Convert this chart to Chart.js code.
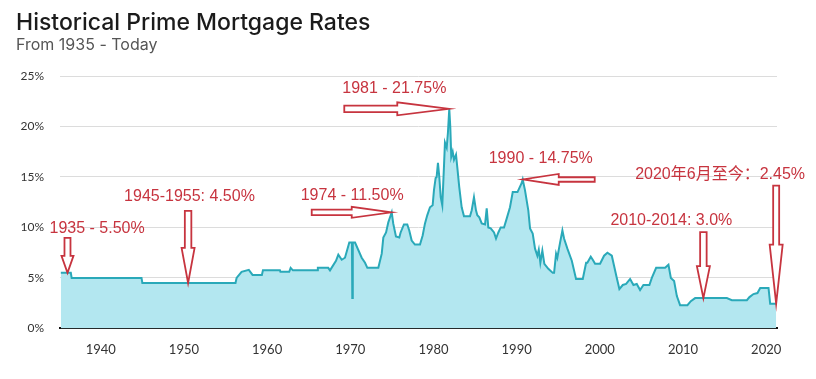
<!DOCTYPE html>
<html>
<head>
<meta charset="utf-8">
<script src="https://cdn.jsdelivr.net/npm/chart.js@4/dist/chart.umd.min.js"></script>
<style>
  html, body { margin: 0; padding: 0; background: #ffffff; }
  #wrap { width: 816px; height: 379px; }
</style>
</head>
<body>
<div id="wrap"><canvas id="c" width="816" height="379"></canvas></div>
<script>
// ---- data ----
const years = [
  1935.2, 1936.4, 1936.5, 1944.9, 1945.0, 1956.2, 1956.33, 1956.93, 1957.8, 1958.25,
  1959.37, 1959.5, 1961.54, 1961.6, 1962.66, 1962.83, 1963.1, 1966.0, 1966.1, 1967.35,
  1967.56, 1968.28, 1968.56, 1968.97, 1969.36, 1969.88, 1970.2, 1970.24, 1970.3, 1970.57,
  1971.37, 1971.77, 1972.05, 1973.37, 1973.78, 1973.97, 1974.3, 1974.57, 1974.98, 1975.16,
  1975.49, 1975.89, 1976.05, 1976.45, 1976.85, 1977.09, 1977.38, 1977.77, 1978.38, 1978.7,
  1978.98, 1979.25, 1979.58, 1979.9, 1980.06, 1980.26, 1980.38, 1980.54, 1980.7, 1980.87,
  1981.06, 1981.26, 1981.38, 1981.59, 1981.74, 1981.9, 1982.02, 1982.14, 1982.31, 1982.47,
  1982.71, 1982.86, 1983.1, 1983.39, 1983.67, 1984.39, 1984.6, 1984.87, 1985.11, 1985.27,
  1985.51, 1985.8, 1986.2, 1986.4, 1986.59, 1986.88, 1987.28, 1987.52, 1987.8, 1988.08,
  1988.48, 1988.81, 1989.2, 1989.53, 1990.1, 1990.61, 1990.73, 1991.0, 1991.4, 1991.61,
  1991.93, 1992.21, 1992.49, 1992.66, 1992.85, 1993.09, 1993.33, 1993.81, 1994.34, 1994.5,
  1994.74, 1994.89, 1995.22, 1995.5, 1995.7, 1996.1, 1996.63, 1997.14, 1997.95, 1998.35,
  1998.5, 1998.91, 1999.15, 1999.43, 2000.03, 2000.51, 2000.91, 2001.44, 2001.71, 2002.04,
  2002.35, 2002.76, 2003.16, 2003.64, 2004.04, 2004.44, 2004.84, 2005.24, 2005.96, 2006.25,
  2006.77, 2007.85, 2008.25, 2008.54, 2008.93, 2009.26, 2009.65, 2010.53, 2010.94, 2011.46,
  2015.27, 2015.87, 2017.68, 2017.99, 2018.47, 2018.95, 2019.28, 2020.28, 2020.48, 2021.2
];
const rates = [
  5.5, 5.5, 5.0, 5.0, 4.5, 4.5, 5.0, 5.6, 5.8, 5.3,
  5.3, 5.75, 5.75, 5.6, 5.6, 6.0, 5.75, 5.75, 6.0, 6.0,
  5.75, 6.7, 7.3, 6.8, 7.0, 8.5, 8.5, 3.0, 8.5, 8.5,
  7.0, 6.5, 6.0, 6.0, 7.4, 9.0, 9.5, 10.5, 11.5, 10.4,
  9.1, 9.0, 9.5, 10.3, 10.3, 9.7, 8.7, 8.3, 8.3, 9.2,
  10.4, 11.2, 12.0, 12.2, 13.7, 14.9, 15.0, 16.4, 15.0, 13.0,
  12.2, 16.0, 18.4, 17.9, 19.4, 21.75, 20.0, 17.0, 17.5, 16.7,
  17.2, 16.0, 14.0, 12.0, 11.1, 11.1, 11.7, 13.0, 11.7, 11.2,
  11.0, 10.4, 10.3, 11.9, 10.0, 9.9, 9.5, 8.9, 9.5, 10.0,
  10.0, 10.9, 12.0, 13.5, 13.5, 14.4, 14.75, 13.7, 11.7, 9.9,
  9.4, 7.9, 7.2, 7.8, 6.5, 7.7, 6.4, 5.9, 5.5, 5.5,
  7.4, 7.0, 8.5, 9.7, 8.9, 7.9, 6.7, 4.9, 4.9, 6.5,
  6.5, 7.1, 6.8, 6.4, 6.4, 7.2, 7.5, 7.2, 6.2, 5.0,
  3.9, 4.3, 4.4, 4.9, 4.3, 4.4, 3.8, 4.3, 4.3, 5.0,
  6.0, 6.0, 6.3, 5.0, 4.7, 3.2, 2.3, 2.3, 2.7, 3.0,
  3.0, 2.8, 2.8, 3.1, 3.4, 3.5, 4.0, 4.0, 2.45, 2.45
];
const xTickYears = [1940, 1950, 1960, 1970, 1980, 1990, 2000, 2010, 2020];
const yTickValues = [0, 5, 10, 15, 20, 25];

// annotations: label text and the data point each arrow points at
const annoTexts = ['1935 - 5.50%', '1945-1955: 4.50%', '1974 - 11.50%', '1981 - 21.75%',
                   '1990 - 14.75%', '2010-2014: 3.0%', '2020年6月至今：2.45%'];
const annoYears = [1936.0, 1950.5, 1974.98, 1981.9, 1990.73, 2012.45, 2021.2];
const annoRates = [5.5, 4.5, 11.5, 21.75, 14.75, 3.0, 2.45];

// ---- styling of annotations (pixel offsets relative to arrow tip) ----
const annoStyle = [
  { ang: Math.PI / 2, len: 35,  head: 17, shaft: 6,   headW: 12,  dx: -18,  dy: -44 },
  { ang: Math.PI / 2, len: 72,  head: 35, shaft: 6.5, headW: 13,  dx: -64,  dy: -86 },
  { ang: 0,           len: 80,  head: 40, shaft: 5.5, headW: 11,  dx: -91,  dy: -17 },
  { ang: 0,           len: 105, head: 52, shaft: 6.5, headW: 13,  dx: -107, dy: -20 },
  { ang: Math.PI,     len: 72,  head: 36, shaft: 4.5, headW: 11,  dx: -34,  dy: -21 },
  { ang: Math.PI / 2, len: 66,  head: 32, shaft: 6.5, headW: 13,  dx: -93,  dy: -78 },
  { ang: Math.PI / 2, len: 118, head: 59, shaft: 6,   headW: 13,  dx: -141, dy: -129 }
];
const RED = '#c7343f';

function drawArrow(ctx, tx, ty, s) {
  ctx.save();
  ctx.translate(tx, ty);
  ctx.rotate(s.ang);
  ctx.beginPath();
  ctx.moveTo(0, 0);
  ctx.lineTo(-s.head, -s.headW / 2);
  ctx.lineTo(-s.head, -s.shaft / 2);
  ctx.lineTo(-s.len, -s.shaft / 2);
  ctx.lineTo(-s.len, s.shaft / 2);
  ctx.lineTo(-s.head, s.shaft / 2);
  ctx.lineTo(-s.head, s.headW / 2);
  ctx.closePath();
  ctx.fillStyle = '#ffffff';
  ctx.fill();
  ctx.lineWidth = 1.8;
  ctx.strokeStyle = RED;
  ctx.lineJoin = 'miter';
  ctx.stroke();
  ctx.restore();
}

const annoPlugin = {
  id: 'annoPlugin',
  afterDatasetsDraw(chart) {
    const ctx = chart.ctx;
    const xs = chart.scales.x, ys = chart.scales.y;
    ctx.save();
    annoTexts.forEach((t, i) => {
      const s = annoStyle[i];
      const tx = xs.getPixelForValue(annoYears[i]);
      const ty = ys.getPixelForValue(annoRates[i]);
      drawArrow(ctx, tx, ty, s);
      ctx.fillStyle = RED;
      ctx.font = '16px "Liberation Sans", Arial, "Noto Sans CJK SC", sans-serif';
      ctx.textAlign = 'left';
      ctx.textBaseline = 'middle';
      ctx.fillText(t, tx + s.dx, ty + s.dy);
    });
    ctx.restore();
  }
};

new Chart(document.getElementById('c'), {
  type: 'line',
  data: {
    datasets: [{
      data: years.map((yr, i) => ({ x: yr, y: rates[i] })),
      borderColor: '#2aa9b9',
      backgroundColor: '#b3e7f0',
      borderWidth: 2,
      fill: 'origin',
      pointRadius: 0,
      tension: 0
    }]
  },
  options: {
    responsive: false,
    animation: false,
    layout: { padding: { left: 16, right: 39, top: 0, bottom: 7 } },
    plugins: {
      legend: { display: false },
      tooltip: { enabled: false },
      title: {
        display: true,
        text: 'Historical Prime Mortgage Rates',
        align: 'start',
        color: '#1b1b1b',
        font: { family: 'Inter', size: 23, weight: '500', lineHeight: 1 },
        padding: { top: 12, bottom: 0 }
      },
      subtitle: {
        display: true,
        text: 'From 1935 - Today',
        align: 'start',
        color: '#555555',
        font: { family: 'Inter', size: 16, weight: '400', lineHeight: 1 },
        padding: { top: 2, bottom: 23 }
      }
    },
    scales: {
      x: {
        type: 'linear',
        min: 1935.1,
        max: 2021.3,
        grid: { display: false, drawTicks: false },
        border: { display: true, color: '#111111', width: 2 },
        afterBuildTicks: (scale) => { scale.ticks = xTickYears.map(v => ({ value: v })); },
        ticks: {
          padding: 14,
          color: '#333333',
          font: { family: 'Lato', size: 13 },
          maxRotation: 0,
          autoSkip: false,
          callback: (v) => String(v)
        }
      },
      y: {
        min: 0,
        max: 25,
        afterFit: (scale) => { scale.width = 44; },
        afterBuildTicks: (scale) => { scale.ticks = yTickValues.map(v => ({ value: v })); },
        grid: { color: '#dcdcdc', lineWidth: 1, drawTicks: false },
        border: { display: false },
        ticks: {
          padding: 16,
          color: '#333333',
          font: { family: 'Lato', size: 12 },
          callback: (v) => v + '%'
        }
      }
    }
  },
  plugins: [annoPlugin]
});
</script>
</body>
</html>
